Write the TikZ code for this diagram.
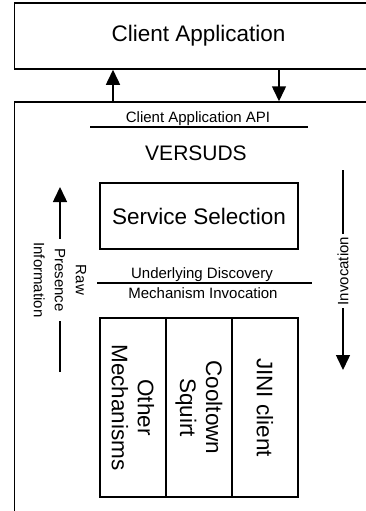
\documentclass[tikz,border=0pt]{standalone}
\usepackage{fontspec}
\setmainfont{Liberation Sans}
\usetikzlibrary{arrows.meta}
\begin{document}
\begin{tikzpicture}[x=1pt,y=1pt,
  box/.style={draw, line width=1.5pt, inner sep=0pt},
  big/.style={font=\fontsize{22.5}{26}\selectfont, align=center},
  mid/.style={font=\fontsize{15}{18}\selectfont},
  side/.style={font=\fontsize{15}{21}\selectfont, fill=white, inner sep=3pt, align=center},
  arr/.style={line width=1.5pt, -{Triangle[length=15pt,width=14pt]}},
  rule/.style={line width=1.4pt}]
\useasboundingbox (0,0) rectangle (366,-511);
% outer boxes
\node[box, big, minimum width=368pt, minimum height=66pt] (app) at (198.5,-36) {Client Application};
\node[box, minimum width=368pt, minimum height=429pt] (vers) at (198.5,-316.5) {};
% arrows between application and VERSUDS
\coordinate (ux) at (113,0);
\coordinate (dx) at (279,0);
\draw[arr] (ux |- vers.north) -- (ux |- app.south);
\draw[arr] (dx |- app.south) -- (dx |- vers.north);
% API
\node[mid, anchor=base] (api) at (198,-122) {Client Application API};
\coordinate (apiL) at (90,-127);
\coordinate (apiR) at (308,-127);
\draw[rule] (apiL) -- (apiR);
\node[font=\fontsize{21}{25}\selectfont, anchor=base] (vs) at (196,-160) {VERSUDS};
% service selection
\node[box, big, minimum width=198pt, minimum height=66pt] (sel) at (199,-216) {Service Selection};
% underlying discovery
\node[mid, anchor=base] (ud) at (202,-278) {Underlying Discovery};
\coordinate (udL) at (97,-283);
\coordinate (udR) at (312,-283);
\draw[rule] (udL) -- (udR);
\node[mid, anchor=base] (mi) at (203,-298) {Mechanism Invocation};
% mechanisms
\node[box, big, rotate=-90, minimum width=179pt, minimum height=66pt] (other) at (133,-407.5) {Other\\Mechanisms};
\node[box, big, rotate=-90, minimum width=179pt, minimum height=66pt] (cool) at (199,-407.5) {Cooltown\\Squirt};
\node[box, big, rotate=-90, minimum width=179pt, minimum height=66pt] (jini) at (265,-407.5) {JINI client};
% side arrows
\coordinate (rawB) at (60,-372);
\coordinate (rawT) at (60,-187);
\draw[arr] (rawB) -- (rawT);
\node[side, rotate=-90] (raw) at (60,-280) {Raw\\Presence\\Information};
\coordinate (invT) at (343,-170);
\coordinate (invB) at (343,-370);
\draw[arr] (invT) -- (invB);
\node[side, rotate=90] (inv) at (343,-271) {Invocation};
\end{tikzpicture}
\end{document}
